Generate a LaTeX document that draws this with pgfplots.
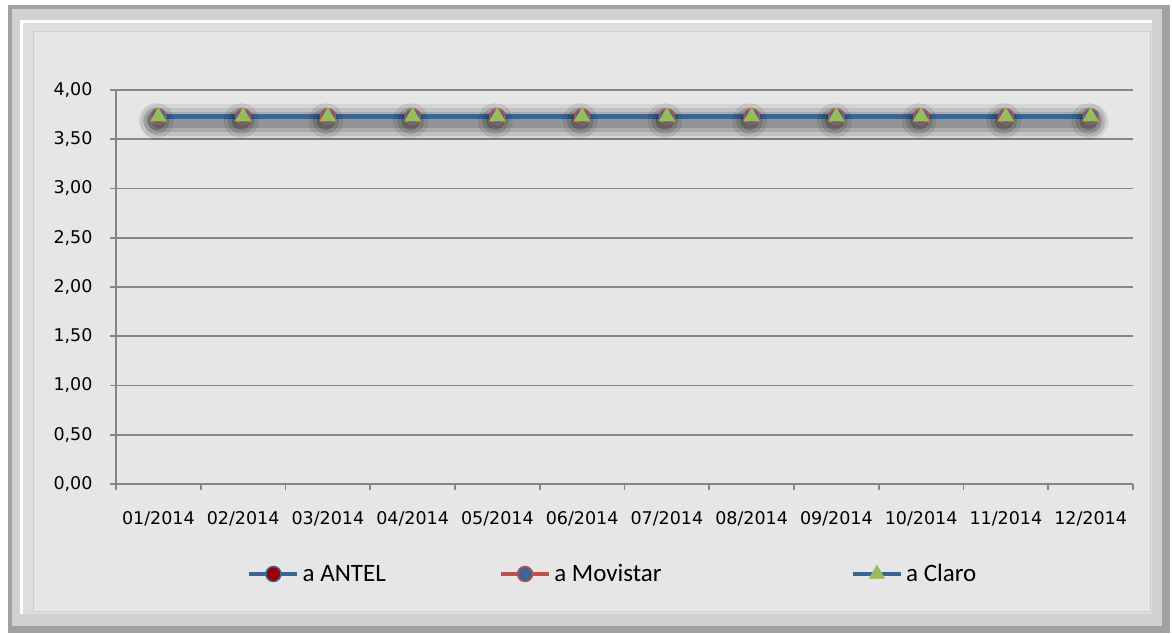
\documentclass[border=0pt]{standalone}
\usepackage{pgfplots}
\pgfplotsset{compat=1.18}
\usepackage{fontspec}
\newfontfamily\tickfont{DejaVu Sans}
\newfontfamily\legfont{Carlito}
\definecolor{serblue}{HTML}{3A6598}
\definecolor{serred}{HTML}{C0504D}
\definecolor{sergreen}{HTML}{9BBB59}
\definecolor{gridgray}{HTML}{868686}
\definecolor{panel}{HTML}{E6E6E6}
\pgfplotstableread{
x y
0 3.73
1 3.73
2 3.73
3 3.73
4 3.73
5 3.73
6 3.73
7 3.73
8 3.73
9 3.73
10 3.73
11 3.73
}\datatable
\begin{document}
\begin{tikzpicture}[x=1pt,y=1pt]
\useasboundingbox (0,0) rectangle (1172,634);
% bevelled frame
\fill[white] (0,0) rectangle (1172,634);
\fill[black!37] (8,1) rectangle (1170,629);
\fill[black!18] (12,8) rectangle (1162,625);
\fill[white] (20,20) rectangle (1152,614);
\fill[black!13] (23,20) rectangle (1152,611);
\filldraw[fill=panel,draw=black!19,line width=1pt] (33,22) rectangle (1150,602);

\begin{axis}[
  at={(116pt,150pt)}, anchor=south west,
  scale only axis, width=1017pt, height=394pt,
  xmin=-0.5, xmax=11.5, ymin=0, ymax=4,
  axis x line*=bottom, axis y line*=left,
  axis line style={gridgray, line width=2pt},
  ymajorgrids, grid style={gridgray, line width=1.8pt},
  tick align=outside, major tick length=6pt,
  tick style={gridgray, line width=1.8pt},
  xtick={-0.5,0.5,...,11.5},
  x tick label as interval,
  xticklabels={01/2014,02/2014,03/2014,04/2014,05/2014,06/2014,07/2014,08/2014,09/2014,10/2014,11/2014,12/2014},
  ytick={0,0.5,...,4},
  /pgf/number format/fixed, /pgf/number format/fixed zerofill,
  /pgf/number format/precision=2, /pgf/number format/use comma,
  /pgf/number format/assume math mode=true,
  ticklabel style={font=\tickfont\fontsize{17.5}{20}\selectfont, text=black},
  xticklabel style={yshift=-18pt},
  yticklabel style={xshift=-14pt},
  clip=false,
  legend columns=3,
  legend style={at={(0.1288,-0.2284)}, anchor=west, draw=none, fill=none,
    inner sep=0pt, font=\legfont\fontsize{25}{28}\selectfont,
    nodes={inner xsep=3pt, inner ysep=0pt},
    /tikz/column 2/.style={column sep=110pt},
    /tikz/column 4/.style={column sep=186pt}},
  legend image code/.code={
    \draw[#1,mark=none] (0pt,0pt) -- (48pt,0pt);
    \draw[#1,line width=1.5pt] plot coordinates {(24pt,0pt)};},
]
% soft shadow under the lines
\addplot[forget plot, mark=none, draw=black, opacity=0.07, line width=36pt, line cap=round, yshift=-5pt] table {\datatable};
\addplot[forget plot, mark=none, draw=black, opacity=0.09, line width=28pt, line cap=round, yshift=-5pt] table {\datatable};
\addplot[forget plot, mark=none, draw=black, opacity=0.11, line width=20pt, line cap=round, yshift=-5pt] table {\datatable};
\addplot[forget plot, mark=none, draw=black, opacity=0.13, line width=12pt, line cap=round, yshift=-5pt] table {\datatable};
\addplot[forget plot, only marks, mark=*, mark size=17pt, mark options={draw=none, fill=black, opacity=0.08}, xshift=-2pt, yshift=-4pt] table {\datatable};
\addplot[forget plot, only marks, mark=*, mark size=13pt, mark options={draw=none, fill=black, opacity=0.12}, xshift=-2pt, yshift=-4pt] table {\datatable};
\addplot[forget plot, only marks, mark=*, mark size=9pt, mark options={draw=none, fill=black, opacity=0.18}, xshift=-2pt, yshift=-4pt] table {\datatable};

\addplot[serblue, line width=4.5pt, mark=*, mark size=7.5pt,
  mark options={fill=red!60!black, draw=serblue, line width=1.5pt}] table {\datatable};
\addlegendentry{a ANTEL}
\addplot[serred, line width=4.5pt, mark=*, mark size=7.5pt,
  mark options={fill=serblue, draw=serred, line width=1.5pt}] table {\datatable};
\addlegendentry{a Movistar}
\addplot[serblue, line width=4.5pt, mark=triangle*, mark size=9pt,
  mark options={fill=sergreen, draw=sergreen, line width=0.5pt}] table {\datatable};
\addlegendentry{a Claro}
\end{axis}
\end{tikzpicture}
\end{document}
